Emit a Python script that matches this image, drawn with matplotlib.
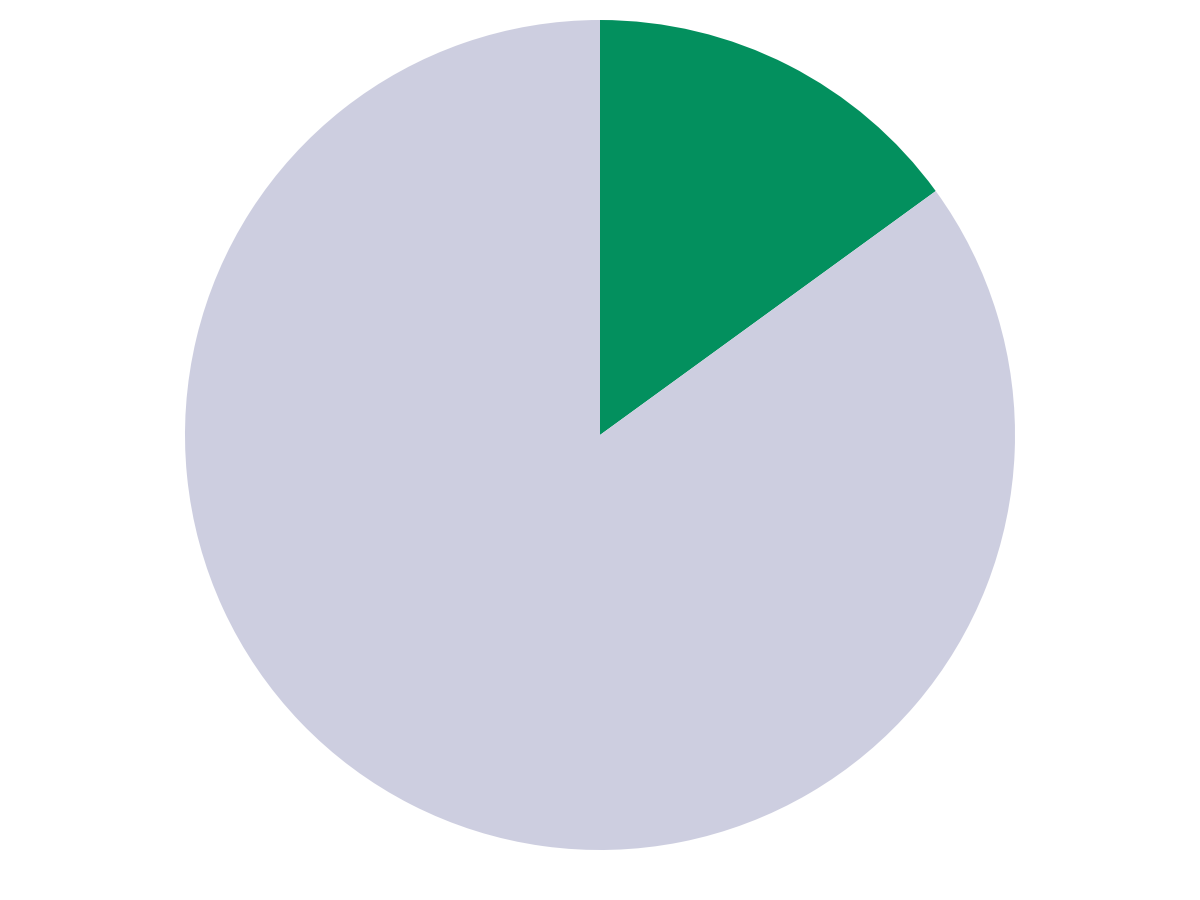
import matplotlib
matplotlib.use("Agg")
import matplotlib.pyplot as plt

labels = ["Share", "Rest"]
values = [15, 85]
colors = ["#03905E", "#CDCEE0"]

fig = plt.figure(figsize=(12, 9), dpi=100)
ax = fig.add_axes([0, 0, 1, 1])
ax.pie(values, colors=colors, startangle=90, counterclock=False, radius=1,
       wedgeprops=dict(linewidth=0))
r = 415.0
ax.set_xlim(-600 / r, 600 / r)
ax.set_ylim(-465 / r, 435 / r)
ax.set_aspect("equal")
ax.axis("off")
fig.savefig("out.png", dpi=100)
